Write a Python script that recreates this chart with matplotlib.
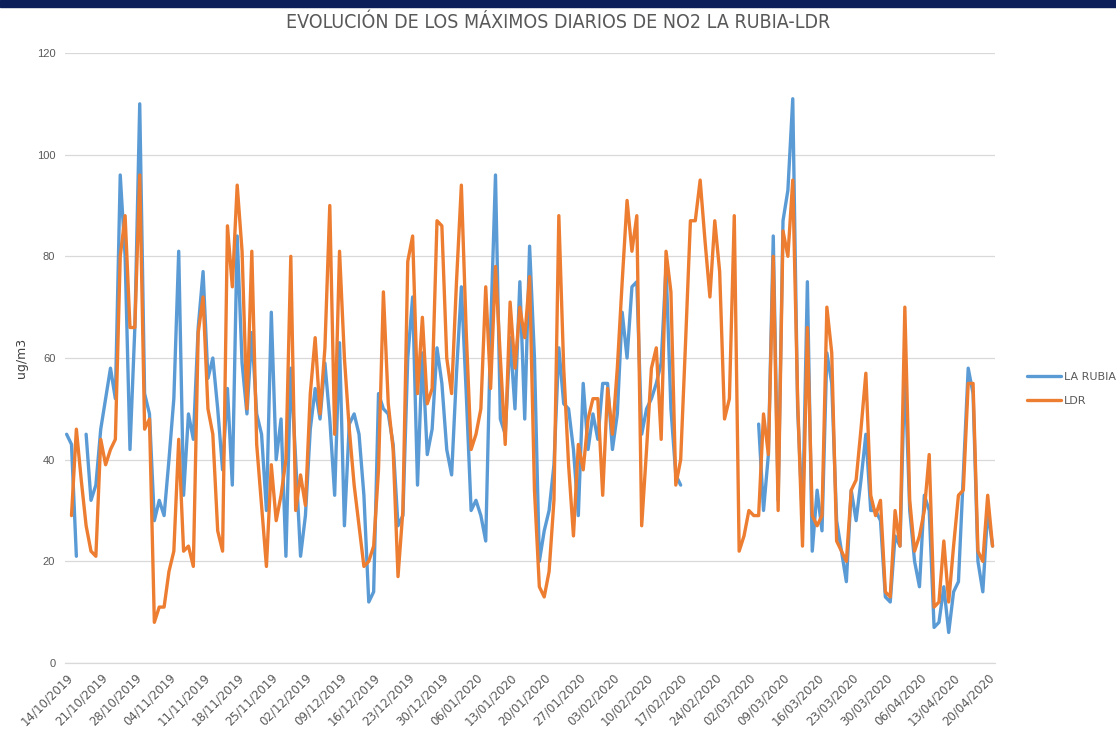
import numpy as np
import pandas as pd
import matplotlib
matplotlib.use("Agg")
import matplotlib.pyplot as plt
from matplotlib.patches import Rectangle

# Daily NO2 maxima (ug/m3), one value per day from 14/10/2019; None = no data
START_DATE = "2019-10-14"

la_rubia = [
    45, 43, 21, None, 45, 32, 35, 46, 52, 58, 52, 96, 80, 42, 66, 110, 53, 49, 28, 32,
    29, 40, 52, 81, 33, 49, 44, 66, 77, 56, 60, 50, 38, 54, 35, 84, 59, 49, 65, 49,
    45, 30, 69, 40, 48, 21, 58, 40, 21, 29, 46, 54, 48, 59, 48, 33, 63, 27, 47, 49,
    45, 33, 12, 14, 53, 50, 49, 43, 27, 29, 60, 72, 35, 61, 41, 46, 62, 55, 42, 37,
    57, 74, 53, 30, 32, 29, 24, 65, 96, 48, 45, 64, 50, 75, 48, 82, 60, 20, 26, 30,
    39, 62, 51, 50, 42, 29, 55, 42, 49, 44, 55, 55, 42, 49, 69, 60, 74, 75, 45, 50,
    52, 55, 59, 78, 50, 37, 35, None, None, None, None, None, None, None, None, None,
    None, None, None, None, None, None, 47, 30, 41, 84, 32, 87, 93, 111, 50, 28,
    75, 22, 34, 26, 61, 55, 28, 22, 16, 34, 28, 36, 45, 30, 30, 28, 13, 12, 25, 23,
    58, 30, 20, 15, 33, 30, 7, 8, 15, 6, 14, 16, 37, 58, 53, 20, 14, 30, 23,
]

ldr = [
    None, 29, 46, 36, 27, 22, 21, 44, 39, 42, 44, 80, 88, 66, 66, 96, 46, 48, 8, 11,
    11, 18, 22, 44, 22, 23, 19, 65, 72, 50, 45, 26, 22, 86, 74, 94, 81, 50, 81, 43,
    31, 19, 39, 28, 33, 40, 80, 30, 37, 31, 53, 64, 49, 62, 90, 45, 81, 60, 46, 35,
    27, 19, 20, 23, 38, 73, 51, 42, 17, 30, 79, 84, 53, 68, 51, 54, 87, 86, 60, 53,
    75, 94, 65, 42, 45, 50, 74, 54, 78, 60, 43, 71, 58, 70, 64, 76, 34, 15, 13, 18,
    32, 88, 58, 39, 25, 43, 38, 48, 52, 52, 33, 54, 45, 58, 75, 91, 81, 88, 27, 42,
    58, 62, 44, 81, 73, 35, 40, 63, 87, 87, 95, 83, 72, 87, 77, 48, 52, 88, 22, 25,
    30, 29, 29, 49, 41, 80, 30, 85, 80, 95, 52, 23, 66, 29, 27, 29, 70, 61, 24, 22,
    20, 34, 36, 46, 57, 33, 29, 32, 14, 13, 30, 23, 70, 32, 22, 25, 30, 41, 11, 12,
    24, 12, 23, 33, 34, 55, 55, 22, 20, 33, 23,
]

series_names = ["LA RUBIA", "LDR"]
series_colors = ["#5b9bd5", "#ed7d31"]
y_ticks = [0, 20, 40, 60, 80, 100, 120]

rubia = np.array(la_rubia, dtype=float)
ldr_vals = np.array(ldr, dtype=float)
dates = pd.date_range(START_DATE, periods=len(rubia), freq="D")
tick_dates = pd.date_range(START_DATE, dates[-1], freq="7D")

grey = "#595959"
grid_col = "#d9d9d9"

fig = plt.figure(figsize=(11.16, 7.29), dpi=100)
fig.patches.append(Rectangle((0, 1 - 7 / 729), 1, 7 / 729, transform=fig.transFigure,
                             color="#0c1f5b", zorder=5))

ax = fig.add_axes([65 / 1116, 1 - 663 / 729, 930 / 1116, 610 / 729])

ax.plot(dates, rubia, color=series_colors[0], lw=2.4, label=series_names[0],
        solid_joinstyle="round", solid_capstyle="round", zorder=3)
ax.plot(dates, ldr_vals, color=series_colors[1], lw=2.4, label=series_names[1],
        solid_joinstyle="round", solid_capstyle="round", zorder=4)

ax.set_xlim(dates[0] - pd.Timedelta(hours=8), dates[-1] + pd.Timedelta(hours=12))
ax.set_ylim(0, 120)
ax.set_yticks(y_ticks)
ax.set_yticklabels([str(t) for t in y_ticks], fontsize=8, color=grey,
                   family=["Liberation Sans", "DejaVu Sans"])
ax.set_xticks(tick_dates)
ax.set_xticklabels([d.strftime("%d/%m/%Y") for d in tick_dates], rotation=45,
                   ha="right", rotation_mode="anchor", fontsize=8.5, color=grey)
ax.tick_params(axis="both", length=0)
ax.tick_params(axis="x", pad=6)
ax.tick_params(axis="y", pad=7)

ax.grid(axis="y", color=grid_col, lw=0.9)
ax.set_axisbelow(True)
for side in ["top", "right", "left"]:
    ax.spines[side].set_visible(False)
ax.spines["bottom"].set_color(grid_col)
ax.spines["bottom"].set_linewidth(0.9)

ax.set_ylabel("ug/m3", fontsize=9, color="#404040", labelpad=6)

fig.text(558 / 1116, 1 - 22 / 729, "EVOLUCIÓN DE LOS MÁXIMOS DIARIOS DE NO2 LA RUBIA-LDR",
         ha="center", va="center", fontsize=14, color=grey, fontstretch="condensed",
         family=["DejaVu Sans"])

ax.legend(loc="center left", bbox_to_anchor=(1027 / 1116, 1 - 389 / 729),
          bbox_transform=fig.transFigure, frameon=False, fontsize=8,
          handlelength=3.1, handletextpad=0.25, labelspacing=1.3,
          borderpad=0, borderaxespad=0, labelcolor=grey)

fig.savefig("out.png", dpi=100)
